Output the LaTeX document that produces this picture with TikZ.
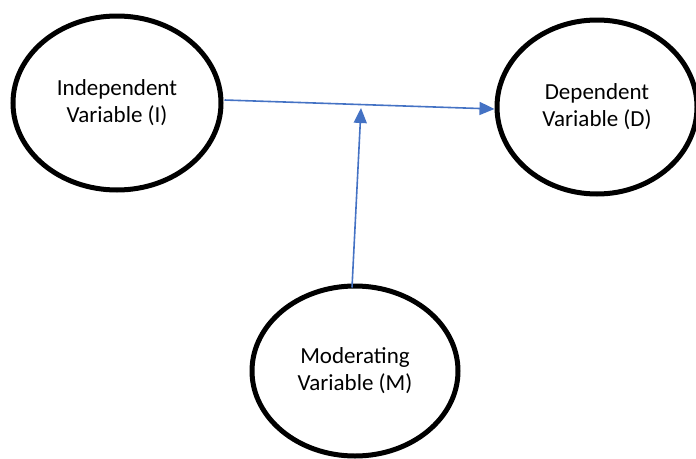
\documentclass[tikz,border=0pt]{standalone}
\usepackage{fontspec}
\setmainfont{Carlito}
\usetikzlibrary{shapes.geometric,arrows.meta,calc}
\definecolor{linkblue}{HTML}{4472C4}
\tikzset{
  varnode/.style={ellipse, draw=black, line width=5pt, inner sep=0pt,
    align=center, font=\fontsize{23}{27}\selectfont},
  link/.style={draw=linkblue, line width=1.6pt,
    -{Triangle[length=15pt,width=13pt]}, color=linkblue}
}
\begin{document}
\begin{tikzpicture}[x=1pt,y=-1pt]
  \useasboundingbox (0,0) rectangle (696,458);
  % the three variables
  \node[varnode, minimum width=208pt, minimum height=174pt] (I) at (117,103)
    {Independent\\Variable (I)};
  \node[varnode, minimum width=200pt, minimum height=174pt] (D) at (597,107)
    {Dependent\\Variable (D)};
  \node[varnode, minimum width=206pt, minimum height=170pt] (M) at (355,371)
    {Moderating\\Variable (M)};
  % moderation points at the I -> D path
  \coordinate (hit) at (361,108);
  \draw[link] ($(I.east)+(1,-3)$) -- ($(D.west)+(0,2)$);
  \draw[link] ($(M.north)+(-3,4)$) -- (hit);
\end{tikzpicture}
\end{document}
